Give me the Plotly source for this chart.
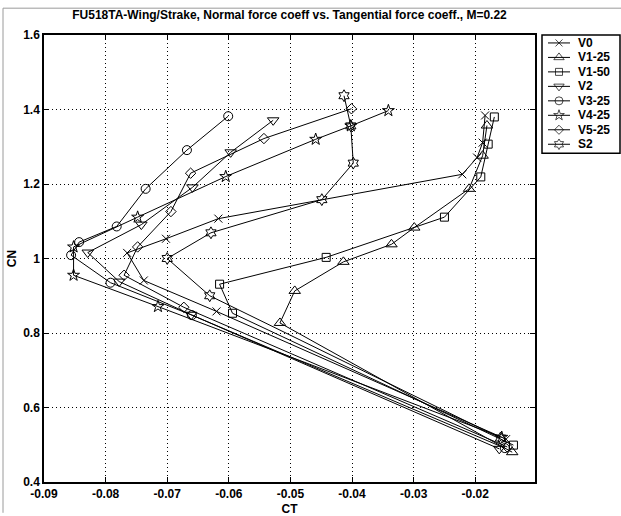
import plotly.graph_objects as go

# ---- data: tangential force coefficient (CT) and normal force coefficient (CN) ----
v0_ct = [-0.0150, -0.0620, -0.0738, -0.0765, -0.0702, -0.0617, -0.0221, -0.0197, -0.0188, -0.0184]
v0_cn = [0.515, 0.858, 0.941, 1.015, 1.053, 1.107, 1.226, 1.271, 1.311, 1.384]

v1_25_ct = [-0.0140, -0.0517, -0.0493, -0.0414, -0.0336, -0.0299, -0.0210, -0.0188, -0.0181]
v1_25_cn = [0.480, 0.827, 0.913, 0.991, 1.038, 1.083, 1.187, 1.276, 1.357]

v1_50_ct = [-0.0138, -0.0594, -0.0615, -0.0442, -0.0250, -0.0191, -0.0179, -0.0169]
v1_50_cn = [0.499, 0.853, 0.931, 1.003, 1.111, 1.219, 1.307, 1.380]

v2_ct = [-0.0161, -0.0661, -0.0778, -0.0829, -0.0742, -0.0659, -0.0597, -0.0528]
v2_cn = [0.489, 0.849, 0.938, 1.016, 1.091, 1.191, 1.285, 1.371]

v3_25_ct = [-0.0152, -0.0660, -0.0792, -0.0856, -0.0843, -0.0782, -0.0735, -0.0668, -0.0601]
v3_25_cn = [0.491, 0.848, 0.935, 1.009, 1.044, 1.086, 1.187, 1.291, 1.382]

v4_25_ct = [-0.0157, -0.0715, -0.0852, -0.0852, -0.0748, -0.0605, -0.0459, -0.0402, -0.0341]
v4_25_cn = [0.520, 0.871, 0.955, 1.031, 1.111, 1.220, 1.320, 1.356, 1.397]

v5_25_ct = [-0.0148, -0.0673, -0.0770, -0.0748, -0.0694, -0.0662, -0.0543, -0.0401]
v5_25_cn = [0.494, 0.869, 0.955, 1.031, 1.126, 1.229, 1.322, 1.402]

s2_ct = [-0.0159, -0.0631, -0.0700, -0.0629, -0.0449, -0.0398, -0.0402, -0.0413]
s2_cn = [0.518, 0.900, 1.000, 1.069, 1.158, 1.256, 1.356, 1.437]

series_names = ["V0", "V1-25", "V1-50", "V2", "V3-25", "V4-25", "V5-25", "S2"]

x_ticks = [-0.09, -0.08, -0.07, -0.06, -0.05, -0.04, -0.03, -0.02]
x_ticklabels = ["-0.09", "-0.08", "-0.07", "-0.06", "-0.05", "-0.04", "-0.03", "-0.02"]
y_ticks = [0.4, 0.6, 0.8, 1.0, 1.2, 1.4, 1.6]
y_ticklabels = ["0.4", "0.6", "0.8", "1", "1.2", "1.4", "1.6"]

title_text = "FU518TA-Wing/Strake, Normal force coeff vs. Tangential force coeff., M=0.22"

# ---- styling ----
series = [
    (v0_ct, v0_cn, "x-thin-open", 8),
    (v1_25_ct, v1_25_cn, "triangle-up-open", 10),
    (v1_50_ct, v1_50_cn, "square-open", 8),
    (v2_ct, v2_cn, "triangle-down-open", 10),
    (v3_25_ct, v3_25_cn, "circle-open", 9),
    (v4_25_ct, v4_25_cn, "star-open", 9),
    (v5_25_ct, v5_25_cn, "diamond-open", 8),
    (s2_ct, s2_cn, "hexagram-open", 9),
]

FONT = "Liberation Sans, Arial, Helvetica, sans-serif"
W, H = 621, 516
ML, MT, MB = 44, 35, 31
PLOT_W = 491                     # width of the data area in px
PLOT_H = H - MT - MB
AREA_W = W - ML                  # paper width (right margin is zero)

def px_x(p):
    return (p - ML) / AREA_W

def px_y(p):
    return (H - MB - p) / PLOT_H

fig = go.Figure()

for (ct, cn, sym, size), name in zip(series, series_names):
    fig.add_trace(go.Scatter(
        x=ct, y=cn, name=name, mode="lines+markers",
        line=dict(color="black", width=1),
        marker=dict(symbol=sym, size=size, color="black", line=dict(width=1, color="black")),
        showlegend=False, xaxis="x", yaxis="y",
    ))

# ---- legend drawn in its own small axes (pixel-like units) ----
leg_left, leg_right, leg_top, leg_bottom = 542, 620, 35, 154
row0, row_step = 43.0, 14.57
for i, ((ct, cn, sym, size), name) in enumerate(zip(series, series_names)):
    yy = row0 + row_step * i
    fig.add_trace(go.Scatter(
        x=[548, 559, 570], y=[yy, yy, yy], mode="lines+markers",
        line=dict(color="black", width=1),
        marker=dict(symbol=sym, size=[0, size - 1, 0], color="black",
                    line=dict(width=1, color="black")),
        showlegend=False, hoverinfo="skip", xaxis="x2", yaxis="y2",
    ))
    fig.add_annotation(
        x=576, y=yy, xref="x2", yref="y2", text=name, showarrow=False,
        xanchor="left", yanchor="middle",
        font=dict(family=FONT, size=12, color="black", weight="bold"),
    )

axis_common = dict(
    showline=True, linecolor="black", linewidth=1.5, mirror="ticks",
    ticks="inside", ticklen=5, tickwidth=1, tickcolor="black",
    showgrid=True, gridcolor="black", gridwidth=1, griddash="1px,3px",
    zeroline=False,
    tickfont=dict(family=FONT, size=12, color="black", weight="bold"),
)

fig.update_layout(
    width=W, height=H,
    margin=dict(l=ML, r=0, t=MT, b=MB, pad=0),
    paper_bgcolor="white", plot_bgcolor="white",
    font=dict(family=FONT, color="black"),
    title=dict(
        text=title_text, x=px_x(ML + PLOT_W / 2), xref="paper", xanchor="center",
        y=1 - 15 / H, yref="container", yanchor="middle",
        font=dict(family=FONT, size=12, color="black", weight="bold"),
    ),
    xaxis=dict(
        domain=[0, PLOT_W / AREA_W], range=[-0.09, -0.0103],
        tickvals=x_ticks, ticktext=x_ticklabels,
        title=dict(text="CT", standoff=6,
                   font=dict(family=FONT, size=12, color="black", weight="bold")),
        **axis_common,
    ),
    yaxis=dict(
        domain=[0, 1], range=[0.4, 1.6],
        tickvals=y_ticks, ticktext=y_ticklabels,
        title=dict(text="CN", standoff=4,
                   font=dict(family=FONT, size=12, color="black", weight="bold")),
        **axis_common,
    ),
    xaxis2=dict(domain=[px_x(leg_left), px_x(leg_right)], range=[leg_left, leg_right],
                visible=False, fixedrange=True),
    yaxis2=dict(domain=[px_y(leg_bottom), 1], range=[leg_bottom, leg_top],
                visible=False, fixedrange=True),
    shapes=[
        # legend box
        dict(type="rect", xref="paper", yref="paper",
             x0=px_x(leg_left), x1=px_x(leg_right), y0=px_y(leg_bottom), y1=px_y(leg_top),
             line=dict(color="black", width=1.5), fillcolor="rgba(0,0,0,0)"),
        # thin window frame, top and left
        dict(type="line", xref="paper", yref="paper",
             x0=px_x(3), x1=px_x(W), y0=px_y(8), y1=px_y(8),
             line=dict(color="#9a9a9a", width=1)),
        dict(type="line", xref="paper", yref="paper",
             x0=px_x(3), x1=px_x(3), y0=px_y(8), y1=px_y(H),
             line=dict(color="#9a9a9a", width=1)),
    ],
)

fig.write_html("out.html")
